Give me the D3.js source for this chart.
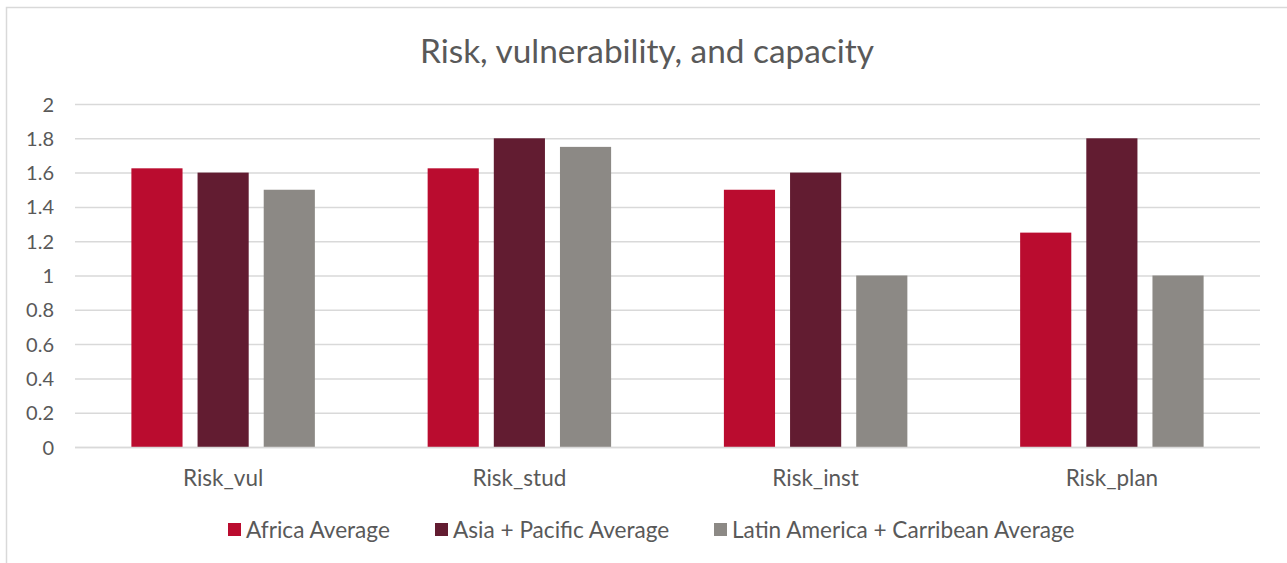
<!DOCTYPE html>
<html><head><meta charset="utf-8">
<script src="https://cdn.jsdelivr.net/npm/d3@7/dist/d3.min.js"></script>
<style>
html,body{margin:0;padding:0;background:#fff;}
svg text{font-family:"Gill Sans","Gill Sans MT",Lato,sans-serif;fill:#595959;}
</style></head>
<body>
<svg id="c" width="1287" height="563"></svg>
<script>
const categories = ["Risk_vul","Risk_stud","Risk_inst","Risk_plan"];
const seriesNames = ["Africa Average","Asia + Pacific Average","Latin America + Carribean Average"];
const africa = [1.625,1.625,1.5,1.25];
const asiaPacific = [1.6,1.8,1.6,1.8];
const latinAmerica = [1.5,1.75,1.0,1.0];
const yTicks = [0,0.2,0.4,0.6,0.8,1,1.2,1.4,1.6,1.8,2];
const colors = ["#ba0c2f","#621c31","#8c8985"];
const seriesValues = [africa, asiaPacific, latinAmerica];

const svg = d3.select("#c");
// chart border
svg.append("rect").attr("x",6.5).attr("y",7.5).attr("width",1300).attr("height",600)
  .attr("fill","none").attr("stroke","#d9d9d9").attr("stroke-width",1.5);

svg.append("text").attr("x",647).attr("y",63).attr("text-anchor","middle")
  .style("font-size","33.4px").text("Risk, vulnerability, and capacity");

const y = d3.scaleLinear().domain([0,2]).range([447,104]);
const x0 = d3.scaleBand().domain(categories).range([75,1260]).paddingInner(0.33).paddingOuter(0.165);
const x1 = d3.scaleBand().domain(seriesNames).range([0,x0.bandwidth()]).paddingInner(0.227).paddingOuter(0.1135);

// grid
const yAxis = d3.axisLeft(y).tickValues(yTicks).tickSize(-(1260-75)).tickPadding(21).tickFormat(d=>String(d));
const ga = svg.append("g").attr("transform","translate(75,0)").call(yAxis);
ga.select(".domain").remove();
ga.selectAll(".tick line").attr("stroke","#d9d9d9").attr("stroke-width",1.5);
ga.selectAll(".tick text").style("font-size","20px").attr("fill","#595959").attr("dy","0.35em");

// bars
const groups = svg.append("g").selectAll("g").data(categories).join("g")
  .attr("transform",d=>`translate(${x0(d)},0)`);
groups.selectAll("rect").data((c,i)=>seriesNames.map((s,k)=>({s,v:seriesValues[k][i],k})))
  .join("rect")
  .attr("x",d=>x1(d.s)).attr("width",x1.bandwidth())
  .attr("y",d=>y(d.v)).attr("height",d=>y(0)-y(d.v))
  .attr("fill",d=>colors[d.k]);

// x axis baseline
svg.append("line").attr("x1",75).attr("x2",1260).attr("y1",y(0)+0.5).attr("y2",y(0)+0.5)
  .attr("stroke","#d9d9d9").attr("stroke-width",1.5);
const xAxis = d3.axisBottom(x0).tickSize(0).tickPadding(0);
const gx = svg.append("g").attr("transform",`translate(0,${y(0)})`).call(xAxis);
gx.select(".domain").remove();
gx.selectAll(".tick text").style("font-size","22.5px").attr("fill","#595959").attr("y",39).attr("dy",0);

// legend
const legendX = [228,435,714];
const lg = svg.append("g").selectAll("g").data(seriesNames).join("g")
  .attr("transform",(d,i)=>`translate(${legendX[i]},523)`);
lg.append("rect").attr("width",13).attr("height",13).attr("fill",(d,i)=>colors[i]);
lg.append("text").attr("x",18).attr("y",15).style("font-size","22.6px").text(d=>d);
</script>
</body></html>
